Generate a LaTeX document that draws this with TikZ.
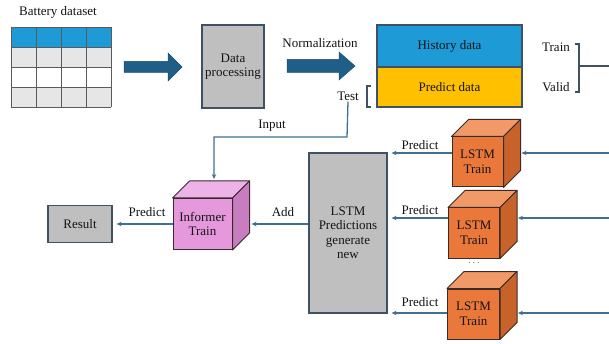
\documentclass[tikz,border=0pt]{standalone}
\usepackage{fontspec}
\setmainfont{Liberation Serif}
\usetikzlibrary{calc,arrows.meta}
\definecolor{conncol}{HTML}{41708F}
\definecolor{edgecol}{HTML}{3F5165}
\definecolor{graybox}{HTML}{BFBFBF}
\definecolor{bluehdr}{HTML}{1E9BD7}
\definecolor{yellowc}{HTML}{FFC000}
\definecolor{blockarrow}{HTML}{1F5F87}
\definecolor{orfront}{HTML}{EA783A}
\definecolor{ortop}{HTML}{F19A68}
\definecolor{orside}{HTML}{C8622B}
\definecolor{pkfront}{HTML}{E698DD}
\definecolor{pktop}{HTML}{EDB2E8}
\definecolor{pkside}{HTML}{C77DC0}
\definecolor{cubeedge}{HTML}{3B2B28}
\definecolor{gridcol}{HTML}{5A5A5A}
\definecolor{txtcol}{HTML}{141414}
\definecolor{lightgrid}{HTML}{E6E6E6}
\newcommand\cd{17}
\newcommand\drawcube[8]{%
  \node[draw=cubeedge, line width=1pt, fill=#5, minimum width=#3 pt, minimum height=#4 pt,
        align=center, inner sep=0pt, font=\rmfamily\fontsize{13}{14.5}\selectfont, text=txtcol] (#1) at (#2) {#8};
  \draw[cubeedge, line width=1pt, fill=#6, line join=round] (#1.north west) -- ++(\cd,-\cd)
     -- ($(#1.north east)+(\cd,-\cd)$) -- (#1.north east) -- cycle;
  \draw[cubeedge, line width=1pt, fill=#7, line join=round] (#1.north east) -- ++(\cd,-\cd)
     -- ($(#1.south east)+(\cd,-\cd)$) -- (#1.south east) -- cycle;
  \coordinate (#1-side) at ($(#1.east)+(\cd,0)$);
  \coordinate (#1-topback) at ($(#1.north)+(0,-\cd)$);
}
\tikzset{
  lbl/.style={font=\rmfamily\fontsize{13}{14.5}\selectfont, text=txtcol, inner sep=1pt},
  graynode/.style={draw=edgecol, line width=1.2pt, fill=graybox, align=center, inner sep=0pt,
        font=\rmfamily\fontsize{13}{14.5}\selectfont, text=txtcol},
  conn/.style={draw=conncol, line width=1.3pt, -{Stealth[length=5pt,width=4.5pt]}},
  plainline/.style={draw=edgecol, line width=1.1pt},
  blockarr/.style={fill=blockarrow, draw=blockarrow!80!black, line width=0.5pt, line join=miter}
}
\begin{document}
\begin{tikzpicture}[x=1pt,y=-1pt]
\useasboundingbox (0,0) rectangle (609,344);
\fill[white] (0,0) rectangle (609,344);

% dataset table
\node[lbl] (dstitle) at (58,12) {Battery dataset};
\fill[bluehdr] (11,27) rectangle (111,47);
\fill[lightgrid] (11,47) rectangle (111,67);
\fill[white] (11,67) rectangle (111,87);
\fill[lightgrid] (11,87) rectangle (111,107);
\foreach \gx in {11,36,61,86,111} \draw[gridcol, line width=0.9pt] (\gx,27) -- (\gx,107);
\foreach \gy in {27,47,67,87,107} \draw[gridcol, line width=0.9pt] (11,\gy) -- (111,\gy);

% block arrows
\path[blockarr] (124,61.5) -- (168,61.5) -- (168,53) -- (182,67) -- (168,81) -- (168,72.5) -- (124,72.5) -- cycle;
\path[blockarr] (287,59.5) -- (339,59.5) -- (339,52) -- (355,66) -- (339,80) -- (339,72.5) -- (287,72.5) -- cycle;

% data processing
\node[graynode, minimum width=62pt, minimum height=83pt] (proc) at (233,66.5) {Data\\processing};
\node[lbl] (norm) at (320,43) {Normalization};

% history / predict
\node[draw=edgecol, line width=1.2pt, fill=bluehdr, minimum width=145pt, minimum height=42pt,
      font=\rmfamily\fontsize{13}{14.5}\selectfont, text=txtcol, inner sep=0pt] (hist) at (449.5,46) {History data};
\node[draw=edgecol, line width=1.2pt, fill=yellowc, minimum width=145pt, minimum height=40pt,
      font=\rmfamily\fontsize{13}{14.5}\selectfont, text=txtcol, inner sep=0pt] (pred) at (449.5,87) {Predict data};

\node[lbl] (train) at (556,47) {Train};
\node[lbl] (valid) at (556,87) {Valid};
\draw[plainline] (575,44) -- (579,44) -- (579,92) -- (575,92);
\coordinate (bracemid) at (579,66);
\coordinate (rightend) at (609,66);
\draw[plainline] (bracemid) -- (rightend);

\node[lbl] (test) at (348,96) {Test};
\draw[plainline] (371,86) -- (367,86) -- (367,107) -- (371,107);

% cubes
\drawcube{informer}{202.5,224}{59}{51}{pkfront}{pktop}{pkside}{Informer\\Train}
\drawcube{lstma}{477.5,162}{51}{50}{orfront}{ortop}{orside}{LSTM\\Train}
\drawcube{lstmb}{474,233}{51}{50}{orfront}{ortop}{orside}{LSTM\\Train}
\drawcube{lstmc}{473.5,314}{52}{50}{orfront}{ortop}{orside}{LSTM\\Train}
\node[font=\fontsize{10}{12}\selectfont, text=gridcol] (dots) at (474,263) {$\cdots$};

% result & predictions box
\node[graynode, minimum width=64pt, minimum height=37pt] (result) at (80,224) {Result};
\node[graynode, minimum width=78pt, minimum height=160pt] (lpred) at (348,233) {LSTM\\Predictions\\generate\\new};

% input connector
\coordinate (bend1) at (347,137);
\coordinate (bend2) at (214,137);
\draw[conn] (test.south) -- (bend1) -- (bend2) -- ([yshift=2pt]bend2 |- informer-topback);
\node[lbl] (inputlbl) at (272,126) {Input};

% informer -> result
\draw[conn] (informer.west) -- ([xshift=4pt]result.east);
\node[lbl] (p0) at (147,212) {Predict};

% predictions -> informer
\draw[conn] (lpred.west |- informer-side) -- ([xshift=2pt]informer-side);
\node[lbl] (addlbl) at (283,212) {Add};

% lstm -> predictions
\coordinate (ra) at (609,153);
\coordinate (rb) at (609,218);
\coordinate (rc) at (609,313);
\draw[conn] (lstma.west |- ra) -- ([xshift=4pt]lpred.east |- ra);
\draw[conn] (lstmb.west |- rb) -- ([xshift=4pt]lpred.east |- rb);
\draw[conn] (lstmc.west |- rc) -- ([xshift=4pt]lpred.east |- rc);
\node[lbl] (p1) at (420,145) {Predict};
\node[lbl] (p2) at (420,210) {Predict};
\node[lbl] (p3) at (420,302) {Predict};

% right inputs
\draw[conn] (ra) -- ([xshift=1pt]lstma-side |- ra);
\draw[conn] (rb) -- ([xshift=1pt]lstmb-side |- rb);
\draw[conn] (rc) -- ([xshift=1pt]lstmc-side |- rc);
\end{tikzpicture}
\end{document}
